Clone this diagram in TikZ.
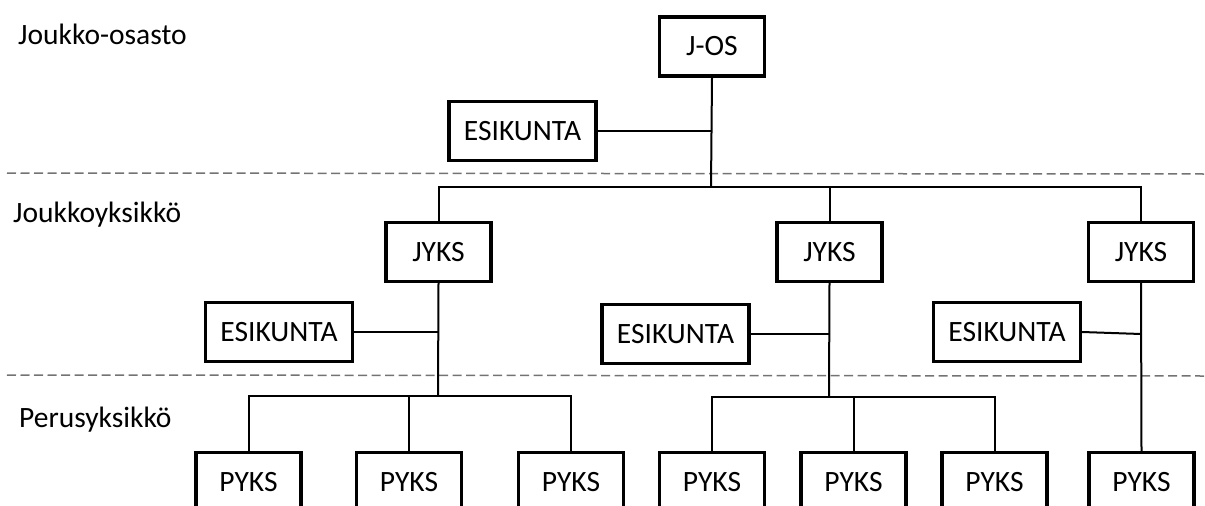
\documentclass[tikz,border=0pt]{standalone}
\usepackage{fontspec}
\setmainfont{Carlito}
\usetikzlibrary{positioning}

\begin{document}
\begin{tikzpicture}[x=1pt, y=-1pt,
  box/.style={draw, line width=3.3pt, minimum width=105pt, minimum height=59pt, inner sep=0pt, font=\fontsize{29.5}{35}\selectfont},
  esbox/.style={box, minimum width=147pt},
  level/.style={anchor=base west, inner sep=0pt, font=\fontsize{29.5}{35}\selectfont},
  link/.style={line width=2pt},
  sep/.style={line width=1.5pt, black!55, dash pattern=on 9pt off 4.5pt}]
%\draw [help lines, step=10pt](0,0) grid (1205,506);
\useasboundingbox (0,0) rectangle (1205,506);
\clip (0,0) rectangle (1205,506);

% tasot
\node [level] (lvl1) at (18,44) {Joukko-osasto};
\node [level] (lvl2) at (13,222) {Joukkoyksikkö};
\node [level] (lvl3) at (19,427) {Perusyksikkö};
\draw [sep] (7,173) -- (1205,174);
\draw [sep] (7,375) -- (1205,376);

% joukko-osasto
\node [box] (jos) at (712,46.5) {J-OS};
\node [esbox] (esk0) at (522.5,131) {ESIKUNTA};

% joukkoyksiköt
\node [box] (jyks1) at (438.5,252) {JYKS};
\node [box] (jyks2) at (829.5,252) {JYKS};
\node [box] (jyks3) at (1141,252) {JYKS};
\node [esbox] (esk1) at (279,332) {ESIKUNTA};
\node [esbox] (esk2) at (675.5,334) {ESIKUNTA};
\node [esbox] (esk3) at (1007,332) {ESIKUNTA};

% perusyksiköt
\node [box] (pyks1) at (248.5,482) {PYKS};
\node [box] (pyks2) at (409,482) {PYKS};
\node [box] (pyks3) at (571,482) {\raisebox{-4pt}{PYKS}};
\node [box] (pyks4) at (712,482) {PYKS};
\node [box] (pyks5) at (853.5,482) {PYKS};
\node [box] (pyks6) at (994.5,482) {PYKS};
\node [box] (pyks7) at (1141.5,482) {PYKS};

\coordinate (b0) at (711,187);
\coordinate (b1) at (438,396);
\coordinate (b2) at (829,397);

\draw [link] (jos.south) -- (b0);
\draw [link] (esk0.east) -- (esk0.east -| b0);
\draw [link] (jyks1.north) |- (b0) -| (jyks3.north);
\draw [link] (jyks2.north) -- (jyks2.north |- b0);

\draw [link] (jyks1.south) -- (b1);
\draw [link] (esk1.east) -- (esk1.east -| b1);
\draw [link] (pyks1.north) |- (b1) -| (pyks3.north);
\draw [link] (pyks2.north) -- (pyks2.north |- b1);

\draw [link] (jyks2.south) -- (b2);
\draw [link] (esk2.east) -- (esk2.east -| b2);
\draw [link] (pyks4.north) |- (b2) -| (pyks6.north);
\draw [link] (pyks5.north) -- (pyks5.north |- b2);

\draw [link] (jyks3.south) -- (pyks7.north);
\draw [link] (esk3.east) -- ([yshift=-2pt]esk3.east -| jyks3.south);
\end{tikzpicture}
\end{document}
